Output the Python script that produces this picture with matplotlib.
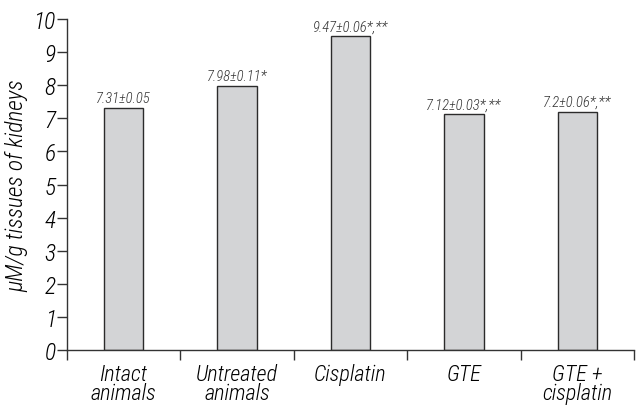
import matplotlib
matplotlib.use("Agg")
import matplotlib.pyplot as plt
import numpy as np

groups = ["Intact\nanimals", "Untreated\nanimals", "Cisplatin", "GTE", "GTE +\ncisplatin"]
values = [7.31, 7.98, 9.47, 7.12, 7.2]
labels = ["7.31±0.05", "7.98±0.11*", "9.47±0.06*,**", "7.12±0.03*,**", "7.2±0.06*,**"]

plt.rcParams["font.family"] = ["Roboto Condensed", "Roboto", "DejaVu Sans"]
plt.rcParams["font.style"] = "italic"
plt.rcParams["font.weight"] = "light"

fig = plt.figure(figsize=(6.36, 4.06), dpi=100)
ax = fig.add_axes([0.105, 0.135, 0.892, 0.816])

x = np.arange(len(groups))
ax.bar(x, values, width=0.35, color="#d3d4d6", edgecolor="#2b2b2b", linewidth=1.0)

for xi, v, lab in zip(x, values, labels):
    ax.annotate(lab, (xi, v), xytext=(0, 2), textcoords="offset points",
                ha="center", va="bottom", fontsize=10.5, color="#333333",
                style="italic", weight="light")

ax.set_xlim(-0.5, len(groups) - 0.5)
ax.set_ylim(0, 10)
ax.set_yticks(range(0, 11))
ax.set_yticklabels([str(t) for t in range(0, 11)], fontsize=17, style="italic",
                   weight="light")
ax.tick_params(axis="y", length=7, width=1, color="#333333", pad=1)

# category labels sit between boundary ticks
ax.set_xticks(x)
ax.set_xticklabels(groups, fontsize=16, linespacing=0.85, style="italic",
                   weight="light")
ax.tick_params(axis="x", which="major", length=0, pad=9)
ax.set_xticks(np.arange(-0.5, len(groups)), minor=True)
ax.tick_params(axis="x", which="minor", length=7, width=1, color="#333333")

ax.set_ylabel("μM/g tissues of kidneys", fontsize=17, labelpad=4, style="italic",
              weight="light")

for side in ["top", "right"]:
    ax.spines[side].set_visible(False)
for side in ["left", "bottom"]:
    ax.spines[side].set_color("#333333")
    ax.spines[side].set_linewidth(1)

fig.savefig("out.png", dpi=100)
